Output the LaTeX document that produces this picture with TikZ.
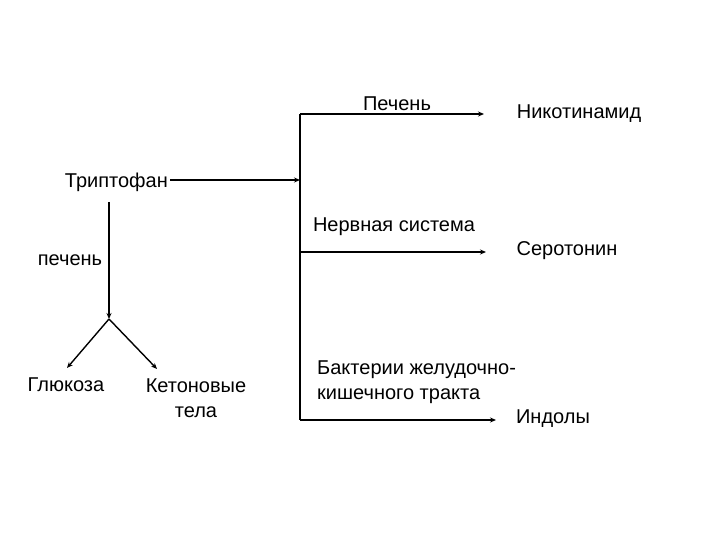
\documentclass[tikz,border=0pt]{standalone}
\usepackage{fontspec}
\setmainfont{Liberation Sans}
\usetikzlibrary{arrows.meta}
\begin{document}
\begin{tikzpicture}[x=1pt,y=-1pt,
  lbl/.style={font=\fontsize{20}{25}\selectfont, inner sep=0pt},
  ln/.style={line width=1.4pt},
  arr/.style={ln,-{Stealth[length=6pt,width=5pt]}}]
\useasboundingbox (0,0) rectangle (720,540);
% text nodes
\node[lbl] (pech) at (397,104) {Печень};
\node[lbl] (nik) at (579,114) {Никотинамид};
\node[lbl,anchor=east] (trp) at (168,182) {Триптофан};
\node[lbl] (nerv) at (394,227) {Нервная система};
\node[lbl] (ser) at (567,251) {Серотонин};
\node[lbl] (pech2) at (70,260) {печень};
\node[lbl] (glu) at (66,385) {Глюкоза};
\node[lbl,align=center] (ket) at (196,398) {Кетоновые\\тела};
\node[lbl,align=left,anchor=west] (bak) at (317,382) {Бактерии желудочно-\\кишечного тракта};
\node[lbl] (ind) at (553,419) {Индолы};
% coordinates
\coordinate (vt) at (300,114);
\coordinate (ts) at (170,180);
\coordinate (vm) at (300,180);
\coordinate (vs) at (300,252);
\coordinate (vb) at (300,420);
\coordinate (nikE) at (484,114);
\coordinate (serE) at (486,252);
\coordinate (indE) at (496,420);
\coordinate (ds) at (109,202);
\coordinate (fork) at (109,319);
\coordinate (gE) at (67,368);
\coordinate (kE) at (157,369);
% connectors
\draw[ln] (vt) -- (vb);
\draw[arr] (ts) -- (vm);
\draw[arr] (vt) -- (nikE);
\draw[arr] (vs) -- (serE);
\draw[arr] (vb) -- (indE);
\draw[arr] (ds) -- (fork);
\draw[arr] (fork) -- (gE);
\draw[arr] (fork) -- (kE);
\end{tikzpicture}
\end{document}
